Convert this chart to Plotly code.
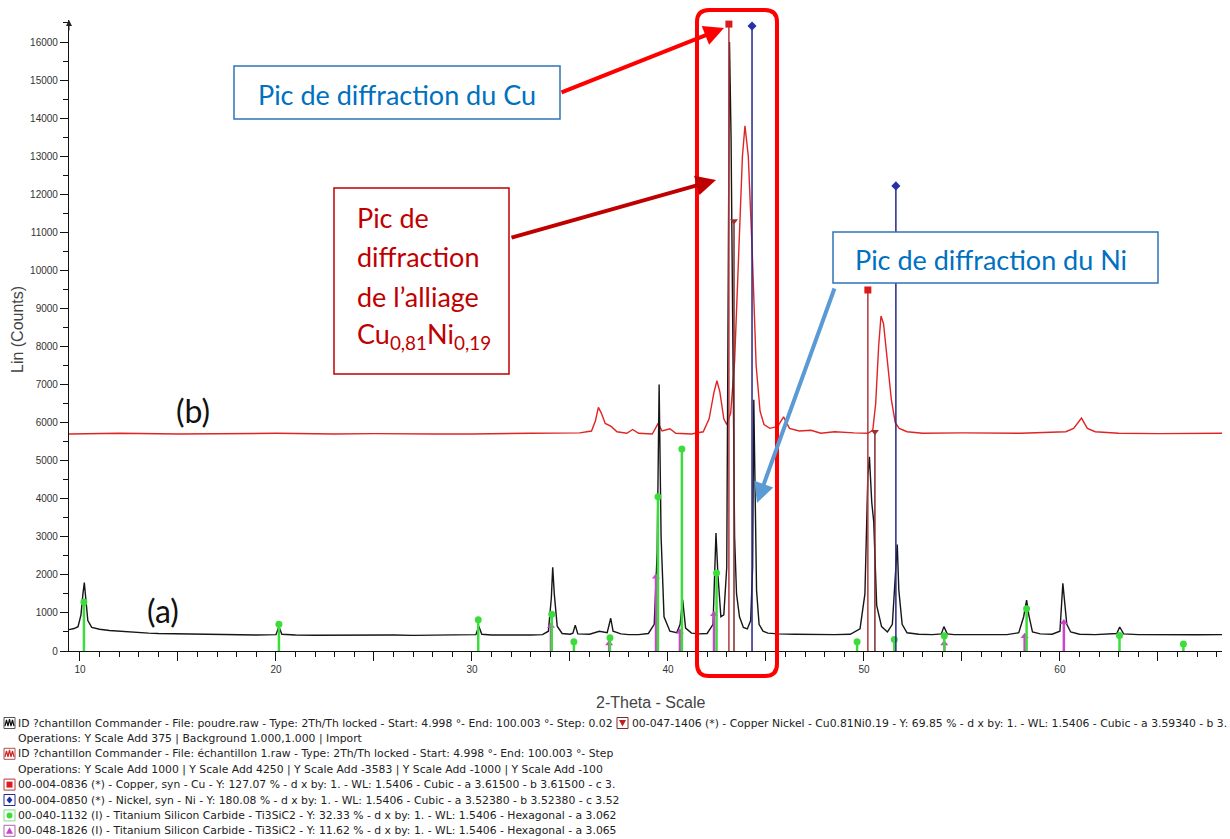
import plotly.graph_objects as go

# ---------------- data ----------------
# pattern (a): powder "poudre.raw"
theta_a = [9.44, 9.7, 9.9, 10.05, 10.15, 10.22, 10.3, 10.4, 10.6, 11.0, 11.5, 12.0, 12.5, 13.0, 13.5,
           14.0, 15.0, 16.0, 17.0, 18.0, 19.0, 20.0, 20.15, 20.3, 21.0, 22.0, 23.0, 24.0, 25.0, 26.0,
           27.0, 28.0, 29.0, 30.2, 30.35, 30.5, 31.0, 32.0, 33.0, 33.6, 33.9, 34.05, 34.12, 34.2, 34.35,
           34.6, 35.0, 35.15, 35.27, 35.4, 36.0, 36.5, 36.7, 36.9, 37.08, 37.2, 37.6, 38.0, 38.5, 39.0,
           39.3, 39.45, 39.55, 39.65, 39.8, 40.1, 40.45, 40.62, 40.75, 40.9, 41.2, 41.6, 42.0, 42.3,
           42.45, 42.55, 42.7, 42.85, 43.0, 43.08, 43.14, 43.22, 43.3, 43.4, 43.5, 43.65, 43.85, 44.05,
           44.22, 44.32, 44.38, 44.45, 44.52, 44.65, 44.85, 45.1, 45.6, 46.5, 47.5, 48.5, 49.3, 49.8,
           50.05, 50.2, 50.28, 50.4, 50.5, 50.65, 50.9, 51.2, 51.45, 51.62, 51.7, 51.78, 51.95, 52.2,
           52.8, 53.5, 53.95, 54.08, 54.25, 54.6, 55.5, 56.5, 57.3, 57.9, 58.15, 58.3, 58.42, 58.6,
           59.0, 59.6, 60.0, 60.15, 60.25, 60.35, 60.55, 61.0, 61.8, 62.6, 62.9, 63.05, 63.25, 64.0,
           65.0, 66.0, 67.0, 68.27]
counts_a = [560, 590, 640, 950, 1500, 1800, 1350, 800, 620, 570, 540, 520, 500, 480, 470,
            460, 450, 440, 430, 425, 420, 430, 640, 440, 420, 415, 420, 410, 415, 420,
            410, 420, 415, 430, 650, 440, 420, 415, 420, 430, 520, 1400, 2200, 1500, 650,
            460, 440, 470, 680, 450, 440, 520, 500, 480, 860, 520, 450, 430, 430, 460,
            700, 2600, 7000, 3000, 900, 520, 480, 700, 1350, 600, 470, 450, 460, 700,
            3100, 2000, 900, 950, 2200, 9000, 16000, 13500, 8000, 3000, 1500, 900, 620, 580,
            800, 2200, 6600, 3900, 1600, 700, 520, 470, 450, 440, 430, 430, 440, 580,
            1500, 4600, 5100, 3900, 3400, 1200, 640, 500, 700, 2000, 2800, 1600, 700, 480,
            440, 430, 450, 640, 450, 430, 425, 430, 430, 480, 900, 1340, 920, 500,
            450, 440, 520, 1780, 1150, 700, 500, 440, 430, 440, 460, 630, 450, 430,
            425, 430, 425, 430]

# pattern (b): sample "échantillon 1.raw" (offset)
theta_b = [9.44, 12.0, 15.0, 18.0, 20.0, 23.0, 25.0, 28.0, 30.0, 33.0, 35.5, 36.1, 36.3, 36.45,
           36.6, 36.8, 37.1, 37.4, 37.9, 38.2, 38.5, 39.2, 39.5, 39.7, 40.1, 40.4, 41.2, 41.8,
           42.1, 42.35, 42.5, 42.65, 42.85, 43.0, 43.2, 43.4, 43.6, 43.8, 43.93, 44.1, 44.3,
           44.5, 44.7, 44.9, 45.2, 45.6, 45.9, 46.2, 46.7, 47.3, 47.8, 48.5, 49.5, 50.2, 50.45,
           50.6, 50.75, 50.87, 51.0, 51.2, 51.4, 51.6, 51.8, 52.2, 53.0, 55.0, 58.0, 60.3, 60.7,
           61.1, 61.4, 61.8, 63.0, 65.0, 68.27]
counts_b = [5700, 5720, 5700, 5710, 5720, 5700, 5710, 5700, 5700, 5720, 5730, 5780, 6050, 6400,
            6250, 5980, 5900, 5760, 5720, 5820, 5720, 5700, 5980, 5780, 5840, 5720, 5700, 5760,
            6100, 6800, 7100, 6800, 6100, 5950, 6250, 7600, 10500, 13000, 13800, 13000, 10500,
            7500, 6300, 5950, 5850, 5900, 6150, 5850, 5780, 5800, 5720, 5760, 5730, 5720, 5800,
            6500, 8000, 8800, 8600, 7600, 6600, 6000, 5850, 5760, 5720, 5730, 5720, 5760, 5850,
            6120, 5850, 5760, 5720, 5710, 5720]

# reference patterns (stick positions, heights)
cu_theta, cu_int = [43.11, 50.20], [16470, 9485]
ni_theta, ni_int = [44.29, 51.63], [16420, 12220]
cuni_theta, cuni_int = [43.37, 50.56], [11300, 5760]
ti1_theta = [10.2, 20.15, 30.32, 34.07, 35.2, 37.04, 39.49, 40.71, 42.48, 49.65, 51.55, 54.1, 58.3, 63.04, 66.3]
ti1_int = [1290, 700, 820, 965, 240, 350, 4050, 5310, 2050, 245, 300, 400, 1110, 410, 185]
ti2_theta = [34.03, 37.0, 39.39, 40.61, 42.35, 54.1, 58.2, 60.2]
ti2_int = [660, 200, 1950, 505, 965, 200, 390, 750]

x_ticks = [10, 15, 20, 25, 30, 35, 40, 45, 50, 55, 60, 65]
x_ticktext = ["10", "", "20", "", "30", "", "40", "", "50", "", "60", ""]
y_ticks = list(range(0, 16001, 1000))

legend_lines = [
    "ID ?chantillon Commander - File: poudre.raw - Type: 2Th/Th locked - Start: 4.998 °- End: 100.003 °- Step: 0.02",
    "Operations: Y Scale Add 375 | Background 1.000,1.000 | Import",
    "ID ?chantillon Commander - File: échantillon 1.raw - Type: 2Th/Th locked - Start: 4.998 °- End: 100.003 °- Step",
    "Operations: Y Scale Add 1000 | Y Scale Add 4250 | Y Scale Add -3583 | Y Scale Add -1000 | Y Scale Add -100",
    "00-004-0836 (*) - Copper, syn - Cu - Y: 127.07 % - d x by: 1. - WL: 1.5406 - Cubic - a 3.61500 - b 3.61500 - c 3.",
    "00-004-0850 (*) - Nickel, syn - Ni - Y: 180.08 % - d x by: 1. - WL: 1.5406 - Cubic - a 3.52380 - b 3.52380 - c 3.52",
    "00-040-1132 (I) - Titanium Silicon Carbide - Ti3SiC2 - Y: 32.33 % - d x by: 1. - WL: 1.5406 - Hexagonal - a 3.062",
    "00-048-1826 (I) - Titanium Silicon Carbide - Ti3SiC2 - Y: 11.62 % - d x by: 1. - WL: 1.5406 - Hexagonal - a 3.065",
]
legend_right = "00-047-1406 (*) - Copper Nickel - Cu0.81Ni0.19 - Y: 69.85 % - d x by: 1. - WL: 1.5406 - Cubic - a 3.59340 - b 3."

# ---------------- geometry ----------------
FW, FH = 1230, 839
L, R, T, B = 69, 8, 20, 188
W = FW - L - R
H = FH - T - B
X0, X1 = 9.439, 68.27
Y0, Y1 = 0, 16578


def px(x):
    return (x - L) / W


def py(y):
    return (T + H - y) / H


def P(x, y):
    return f"{px(x):.5f},{py(y):.5f}"


def sticks(th, val):
    xs, ys = [], []
    for t, v in zip(th, val):
        xs += [t, t, None]
        ys += [0, v, None]
    return xs, ys


fig = go.Figure()

fig.add_trace(go.Scatter(x=theta_b, y=counts_b, mode="lines",
                         line=dict(color="#e02424", width=1.4), hoverinfo="skip"))
fig.add_trace(go.Scatter(x=theta_a, y=counts_a, mode="lines",
                         line=dict(color="#161616", width=1.4), hoverinfo="skip"))

stick_specs = [
    (ti2_theta, ti2_int, "#cc44cc", 2.5, "triangle-up", "#cc44cc"),
    (ti1_theta, ti1_int, "#3ddc3d", 2.5, "circle", "#3ddc3d"),
    (cu_theta, cu_int, "#b3383f", 1.5, "square", "#dd1a1a"),
    (cuni_theta, cuni_int, "#7d2b2b", 1.5, "triangle-down", "#a03030"),
    (ni_theta, ni_int, "#26268c", 1.5, "diamond", "#2233aa"),
]
for th, val, lc, lw, sym, mc in stick_specs:
    xs, ys = sticks(th, val)
    fig.add_trace(go.Scatter(x=xs, y=ys, mode="lines", line=dict(color=lc, width=lw),
                             hoverinfo="skip", cliponaxis=False))
    fig.add_trace(go.Scatter(x=th, y=val, mode="markers",
                             marker=dict(symbol=sym, size=7, color=mc), hoverinfo="skip",
                             cliponaxis=False))

shapes = []
annotations = []

# red rounded highlight box
x_a, x_b, y_a, y_b, rr = 697, 777, 10, 676, 12
path = (f"M {P(x_a + rr, y_a)} L {P(x_b - rr, y_a)} Q {P(x_b, y_a)} {P(x_b, y_a + rr)} "
        f"L {P(x_b, y_b - rr)} Q {P(x_b, y_b)} {P(x_b - rr, y_b)} "
        f"L {P(x_a + rr, y_b)} Q {P(x_a, y_b)} {P(x_a, y_b - rr)} "
        f"L {P(x_a, y_a + rr)} Q {P(x_a, y_a)} {P(x_a + rr, y_a)} Z")
shapes.append(dict(type="path", xref="paper", yref="paper", path=path,
                   line=dict(color="#ff0000", width=4), fillcolor="rgba(0,0,0,0)"))


def box(x0, y0, x1, y1, color):
    shapes.append(dict(type="rect", xref="paper", yref="paper", x0=px(x0), x1=px(x1),
                       y0=py(y1), y1=py(y0), line=dict(color=color, width=1.5), fillcolor="white"))


def text(x, y, s, font, xanchor="center", yanchor="middle", **kw):
    annotations.append(dict(x=px(x), y=py(y), xref="paper", yref="paper", text=s, showarrow=False,
                            xanchor=xanchor, yanchor=yanchor, font=font, **kw))


box(234, 66, 560, 119, "#2e75b6")
box(334, 188, 509, 374, "#c00000")
box(833, 232, 1158, 283, "#2e75b6")

BOXFONT = "Lato"
text(256, 95, "Pic de diffraction du Cu", dict(family=BOXFONT, size=27, color="#0070c0"), xanchor="left")
text(853, 259, "Pic de diffraction du Ni", dict(family=BOXFONT, size=27, color="#0070c0"), xanchor="left")
for s, yy in [("Pic de", 217), ("diffraction", 256), ("de l’alliage", 296),
              ("Cu<sub>0,81</sub>Ni<sub>0,19</sub>", 335)]:
    text(355, yy, s, dict(family=BOXFONT, size=27, color="#c00000"), xanchor="left")


def arrow(hx, hy, tx, ty, color, width=4, size=1.0):
    annotations.append(dict(x=px(hx), y=py(hy), xref="paper", yref="paper", ax=tx - hx, ay=ty - hy,
                            axref="pixel", ayref="pixel", text="", showarrow=True, arrowhead=2,
                            arrowsize=size, arrowwidth=width, arrowcolor=color))


arrow(724, 28, 560, 93, "#ff0000")
arrow(716, 180, 510, 238, "#c00000")
arrow(757, 503, 835, 287, "#5b9bd5")
arrow(69, 20, 69, 32, "#222", width=1, size=1.2)   # y-axis arrow tip

# curve labels
text(193, 411, "(b)", dict(family=BOXFONT, size=32, color="#111"))
text(163, 610, "(a)", dict(family=BOXFONT, size=32, color="#111"))

# axis titles
text(17, 330, "Lin (Counts)", dict(family="Liberation Sans", size=16, color="#444"), textangle=-90)
text(650, 702, "2-Theta - Scale", dict(family="Liberation Sans", size=16, color="#444"))

# legend block
LEGFONT = dict(family="DejaVu Sans", size=10.8, color="#222")


def icon_box(x0, yy, bc):
    shapes.append(dict(type="rect", xref="paper", yref="paper", x0=px(x0), x1=px(x0 + 11),
                       y0=py(yy + 5.5), y1=py(yy - 5.5), line=dict(color=bc, width=1),
                       fillcolor="white"))


def icon_mark(kind, cx, yy, col):
    if kind == "square":
        shapes.append(dict(type="rect", xref="paper", yref="paper", x0=px(cx - 3), x1=px(cx + 3),
                           y0=py(yy + 3), y1=py(yy - 3), line=dict(width=0), fillcolor=col))
    elif kind == "circle":
        shapes.append(dict(type="circle", xref="paper", yref="paper", x0=px(cx - 3), x1=px(cx + 3),
                           y0=py(yy + 3), y1=py(yy - 3), line=dict(width=0), fillcolor=col))
    else:
        pts = {"diamond": [(cx, yy - 3.5), (cx + 3, yy), (cx, yy + 3.5), (cx - 3, yy)],
               "up": [(cx, yy - 3.5), (cx + 3.5, yy + 3), (cx - 3.5, yy + 3)],
               "down": [(cx - 3.5, yy - 3), (cx + 3.5, yy - 3), (cx, yy + 3.5)]}[kind]
        p = "M " + " L ".join(P(a, b) for a, b in pts) + " Z"
        shapes.append(dict(type="path", xref="paper", yref="paper", path=p, line=dict(width=0),
                           fillcolor=col))


icon_specs = [("wave", "#111", "#555"), None, ("wave", "#d02020", "#b05050"), None,
              ("square", "#dd1a1a", "#b3383f"), ("diamond", "#2233aa", "#26268c"),
              ("circle", "#3ddc3d", "#7fdc7f"), ("up", "#cc44cc", "#aa66aa")]
for i, (txt, spec) in enumerate(zip(legend_lines, icon_specs)):
    yy = 723 + i * 15.4
    text(16, yy, txt, LEGFONT, xanchor="left")
    if spec is None:
        continue
    kind, col, bc = spec
    icon_box(4, yy, bc)
    if kind == "wave":
        wpath = "M " + " L ".join(P(a, b) for a, b in
                                  [(5, yy + 3), (6.5, yy - 3), (8, yy + 3), (9.5, yy - 4), (11, yy + 3),
                                   (12.5, yy - 3), (14, yy + 3)])
        shapes.append(dict(type="path", xref="paper", yref="paper", path=wpath,
                           line=dict(color=col, width=1.2)))
    else:
        icon_mark(kind, 9.5, yy, col)

# right-hand legend entry
icon_box(617, 723, "#7d2b2b")
icon_mark("down", 622.5, 723, "#c02020")
text(630, 723, legend_right, LEGFONT, xanchor="left")

fig.update_layout(
    width=FW, height=FH,
    margin=dict(l=L, r=R, t=T, b=B, pad=0),
    paper_bgcolor="white", plot_bgcolor="white",
    showlegend=False,
    shapes=shapes, annotations=annotations,
    xaxis=dict(range=[X0, X1], showgrid=False, zeroline=False, showline=True, linecolor="#111",
               linewidth=1.2, ticks="outside", ticklen=9, tickwidth=1.2, tickcolor="#111",
               tickmode="array", tickvals=x_ticks, ticktext=x_ticktext,
               minor=dict(dtick=1, tick0=10, ticks="outside", ticklen=5, tickwidth=1, tickcolor="#111"),
               tickfont=dict(family="Liberation Sans", size=10, color="#333")),
    yaxis=dict(range=[Y0, Y1], showgrid=False, zeroline=False, showline=True, linecolor="#111",
               linewidth=1.2, ticks="outside", ticklen=8, tickwidth=1.2, tickcolor="#111",
               tickmode="array", tickvals=y_ticks, ticktext=[str(v) for v in y_ticks],
               minor=dict(dtick=500, tick0=0, ticks="outside", ticklen=5, tickwidth=1, tickcolor="#111"),
               tickfont=dict(family="Liberation Sans", size=10, color="#333")),
)

fig.write_html("out.html")
